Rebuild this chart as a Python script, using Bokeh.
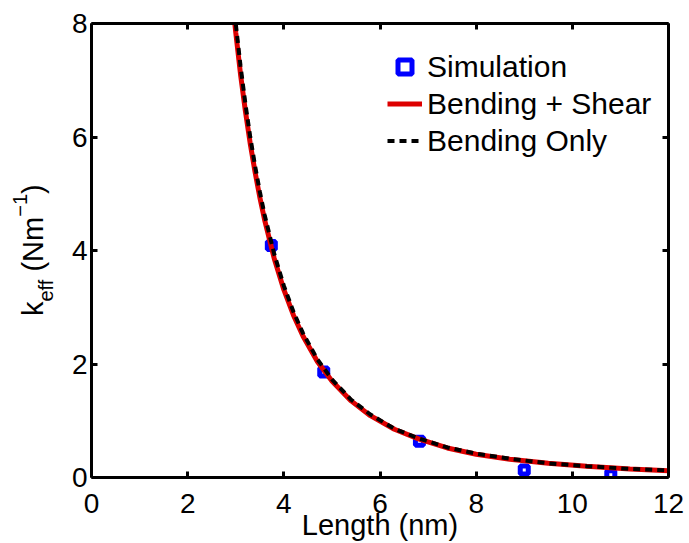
from bokeh.plotting import figure
from bokeh.models import LinearAxis, Legend, LegendItem, ColumnDataSource, Div
from bokeh.layouts import row
from bokeh.embed import file_html
from bokeh.resources import INLINE

# Simulation points
sim_length = [3.74, 4.83, 6.82, 9.0, 10.8]
sim_k = [4.09, 1.86, 0.64, 0.13, 0.05]

# Model curves
curve_length = [2.95, 3.0, 3.1, 3.2, 3.3, 3.4, 3.5, 3.6, 3.8, 4.0, 4.2, 4.4, 4.7,
                5.0, 5.4, 5.8, 6.3, 6.8, 7.4, 8.0, 8.7, 9.5, 10.3, 11.2, 12.0]
bend_shear_k = [8.25, 7.84, 7.10, 6.46, 5.89, 5.39, 4.94, 4.54, 3.86, 3.31, 2.86, 2.49, 2.04,
                1.70, 1.35, 1.09, 0.85, 0.68, 0.52, 0.41, 0.32, 0.25, 0.20, 0.15, 0.12]
bend_only_k = [8.41, 8.00, 7.25, 6.59, 6.01, 5.50, 5.04, 4.63, 3.94, 3.38, 2.92, 2.54, 2.08,
               1.73, 1.37, 1.11, 0.86, 0.69, 0.53, 0.42, 0.33, 0.25, 0.20, 0.15, 0.125]

x_ticks = [0, 2, 4, 6, 8, 10, 12]
y_ticks = [0, 2, 4, 6, 8]
x_label = "Length (nm)"
legend_labels = ["Simulation", "Bending + Shear", "Bending Only"]

FONT = "Liberation Sans"
YLAB_W = 55

p = figure(frame_width=577, frame_height=454, x_range=(0, 12), y_range=(0, 8),
           output_backend="svg", toolbar_location=None,
           x_axis_location=None, y_axis_location=None,
           min_border_left=91 - YLAB_W, min_border_right=21, min_border_top=23,
           min_border_bottom=66, margin=0)
p.grid.visible = False
p.outline_line_color = None
p.background_fill_color = "white"
p.border_fill_color = "white"


def style_axis(ax, show_labels):
    ax.axis_line_width = 3
    ax.axis_line_color = "black"
    ax.major_tick_in = 6
    ax.major_tick_out = 0
    ax.major_tick_line_width = 3
    ax.minor_tick_line_color = None
    ax.major_label_text_font = FONT
    if show_labels:
        ax.major_label_text_font_size = "28px"
        ax.major_label_text_color = "black"
    else:
        ax.major_label_text_font_size = "0px"
        ax.major_label_text_color = None
        ax.major_label_standoff = 0


xb = LinearAxis(ticker=x_ticks, axis_label=x_label)
style_axis(xb, True)
xb.major_label_standoff = 16
xb.axis_label_text_font = FONT
xb.axis_label_text_font_size = "29px"
xb.axis_label_text_font_style = "normal"
xb.axis_label_text_color = "black"
xb.axis_label_standoff = -7
yl = LinearAxis(ticker=y_ticks)
style_axis(yl, True)
yl.major_label_standoff = 4
xt = LinearAxis(ticker=x_ticks)
style_axis(xt, False)
yr = LinearAxis(ticker=y_ticks)
style_axis(yr, False)
p.add_layout(xb, "below")
p.add_layout(yl, "left")
p.add_layout(xt, "above")
p.add_layout(yr, "right")

src_sim = ColumnDataSource(dict(x=sim_length, y=sim_k))
src_curve = ColumnDataSource(dict(x=curve_length, bs=bend_shear_k, bo=bend_only_k))

r_sim = p.scatter("x", "y", source=src_sim, marker="square", size=8,
                  fill_color="white", line_color="#0000ff", line_width=5)
r_bs = p.line("x", "bs", source=src_curve, line_color="#dd0000", line_width=5)
r_bo = p.line("x", "bo", source=src_curve, line_color="black", line_width=4,
              line_dash="7 5")

legend = Legend(items=[LegendItem(label=legend_labels[0], renderers=[r_sim]),
                       LegendItem(label=legend_labels[1], renderers=[r_bs]),
                       LegendItem(label=legend_labels[2], renderers=[r_bo])],
                location=(296, 318), padding=0, margin=0, spacing=0,
                label_height=37, glyph_height=37, glyph_width=35, label_standoff=5,
                label_text_font=FONT, label_text_font_size="30px",
                label_text_color="black",
                border_line_color=None, background_fill_alpha=0)
p.add_layout(legend, "center")

# y axis label (with subscript and superscript) as rotated HTML text
ylab_html = (
    '<div style="position:absolute; left:43px; top:316px; width:0; height:0; '
    'transform-origin:0 0; transform:rotate(-90deg);">'
    '<div style="position:absolute; left:0; top:-24.5px; white-space:nowrap; '
    "font-family:'Liberation Sans'; font-size:29px; line-height:29px; color:black;\">"
    'k<span style="font-size:20px; position:relative; top:10px;">eff</span>'
    ' (Nm<span style="font-size:20px; position:relative; top:-16px;">\u22121</span>)'
    '</div></div>'
)
ydiv = Div(text=ylab_html, width=YLAB_W, height=543, margin=0,
           styles={"position": "relative", "overflow": "visible"})

layout = row(ydiv, p, spacing=0, width=689, height=543, sizing_mode="fixed",
             styles={"overflow": "hidden"})
open("out.html", "w").write(file_html(layout, INLINE))
